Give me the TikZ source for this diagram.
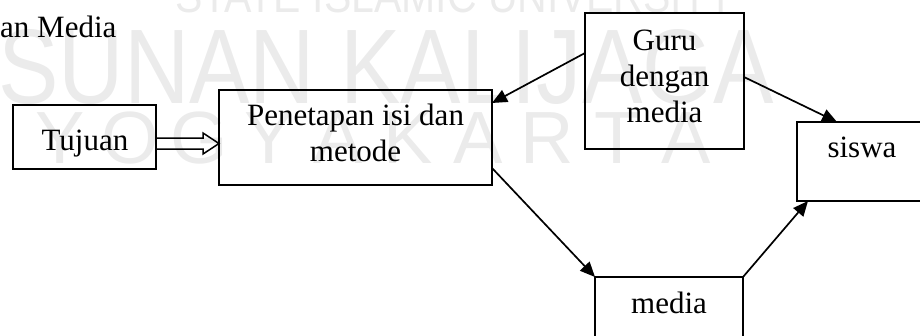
\documentclass[tikz,border=0pt]{standalone}
\usepackage{fontspec}
\setmainfont{Liberation Serif}
\newfontfamily\wmfont{Liberation Sans}
\usetikzlibrary{arrows.meta,calc}
\definecolor{wm}{gray}{0.92}
\begin{document}
\begin{tikzpicture}[x=1pt,y=-1pt,
  box/.style={draw, line width=1.7pt, inner sep=0pt, outer sep=0pt},
  lbl/.style={font=\fontsize{31}{36}\selectfont, inner sep=0pt, align=center},
  arr/.style={line width=1.7pt, -{Triangle[length=15pt,width=13pt]}},
  wmk/.style={text=wm, inner sep=0pt, anchor=base west}]
\useasboundingbox (0,0) rectangle (920,335);
% watermark
\node[wmk, font=\wmfont\fontsize{48}{48}\selectfont, xscale=0.855] (wma) at (175,12) {STATE ISLAMIC UNIVERSITY};
\node[wmk, font=\wmfont\fontsize{106}{106}\selectfont, xscale=0.855] (wmb) at (-2,103) {SUNAN KALIJAGA};
\foreach \x/\c [count=\i] in {60/Y,130/O,199/G,269/Y,338/A,408/K,478/A,547/R,617/T,686/A}
  \node[text=wm, inner sep=0pt, anchor=base, font=\wmfont\fontsize{74}{74}\selectfont] (wmy\i) at (\x,163) {\c};
% title fragment
\node[lbl, anchor=base west] (title) at (0,37) {an Media};
% boxes
\node[box, minimum width=143, minimum height=64] (tuj) at (84.5,137) {};
\node[lbl, anchor=base] (tujt) at (85,150) {Tujuan};
\node[box, minimum width=273, minimum height=95] (pen) at (355.5,137.5) {};
\node[lbl] (pent) at (355.5,132.5) {Penetapan isi dan\\metode};
\node[box, minimum width=159, minimum height=136] (guru) at (664.5,81) {};
\node[lbl] (gurut) at (664.5,76) {Guru\\dengan\\media};
\node[box, minimum width=130, minimum height=79] (sis) at (862,161.5) {};
\node[lbl, anchor=base] (sist) at (862,157) {siswa};
\node[box, minimum width=148, minimum height=79] (med) at (669,316.5) {};
\node[lbl, anchor=base] (medt) at (669,313) {media};
% connectors
\draw[line width=1.5pt, line join=miter]
  ($(tuj.east)+(0,1)$) -- ($(pen.west)+(-16,0.5)$) -- ($(pen.west)+(-16,-4.5)$)
  -- ($(pen.west)+(0,6)$) -- ($(pen.west)+(-16,16.5)$) -- ($(pen.west)+(-16,11.5)$)
  -- ($(tuj.east)+(0,12)$);
\draw[arr] (guru.west |- 0,53) -- (pen.east |- 0,103);
\draw[arr] (guru.east |- 0,77) -- (837,0 |- sis.north);
\draw[arr] (pen.east |- 0,168) -- (med.north west);
\draw[arr] (med.north east) -- (808,0 |- sis.south);
\end{tikzpicture}
\end{document}
